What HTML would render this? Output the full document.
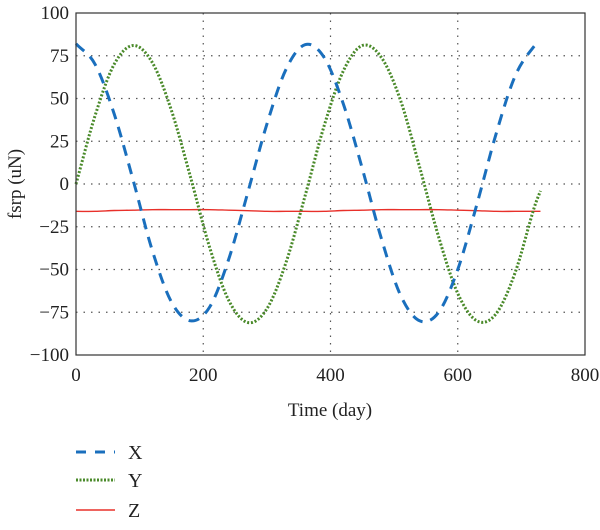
<!DOCTYPE html>
<html><head><meta charset="utf-8"><style>
body{margin:0;background:#fff}
svg text{font-family:"Liberation Serif",serif;fill:#222}
</style></head><body>
<svg id="chart" width="600" height="525" xmlns="http://www.w3.org/2000/svg">
<g id="grid"></g>
<g id="series"></g>
<rect x="76" y="13" width="509" height="342" fill="none" stroke="#333" stroke-width="1.2"/>
<g id="ticks"></g>
<text x="330" y="416" font-size="19" text-anchor="middle">Time (day)</text>
<text transform="translate(21,184) rotate(-90)" font-size="19" text-anchor="middle">fsrp (uN)</text>
<g>
<g><line x1="76" y1="452" x2="115" y2="452" stroke="#1a6fbd" stroke-width="3" stroke-dasharray="10,9"/><text x="128" y="459" font-size="20">X</text></g>
<g><line x1="76" y1="480" x2="115" y2="480" stroke="#4a8a2a" stroke-width="3" stroke-dasharray="2,1.5"/><text x="128" y="487" font-size="20">Y</text></g>
<g><line x1="76" y1="510" x2="115" y2="510" stroke="#e8302a" stroke-width="1.5"/><text x="128" y="517" font-size="20">Z</text></g>
</g>
</svg>
<script>
const days=[0,30,60,90,120,150,180,210,240,270,300,330,360,390,420,450,480,510,540,570,600,630,660,690,720,730];
const xVals=[82,70,41,2,-39,-69,-80,-72,-44,-5,35,67,81.5,74,47,9,-32,-65,-80,-75,-50,-12,29,63,80.5,82];
const yVals=[0,40,70,81,71,43,4,-37,-68,-81,-73,-46,-7,34,66,81,74,49,10,-31,-64,-80,-76,-52,-14,-4];
const zVals=[-16,-16,-15.5,-15.3,-15,-15,-15,-15,-15.3,-15.6,-16,-16,-16,-16,-15.5,-15.3,-15,-15,-15,-15,-15.3,-15.6,-16,-16,-16,-16];
const xTicks=[0,200,400,600,800];
const yTicks=[-100,-75,-50,-25,0,25,50,75,100];
const NS="http://www.w3.org/2000/svg";
const sx=v=>76+v/800*509;
const sy=v=>13+(100-v)/200*342;
function mk(tag,attrs,parent){const e=document.createElementNS(NS,tag);for(const k in attrs)e.setAttribute(k,attrs[k]);parent.appendChild(e);return e;}
const grid=document.getElementById('grid'),ticks=document.getElementById('ticks'),series=document.getElementById('series');
xTicks.forEach(t=>{
  if(t>0&&t<800){const l=mk('line',{x1:sx(t),x2:sx(t),y1:13,y2:355,stroke:'#555','stroke-width':1.2,'stroke-dasharray':'1.5,6'},grid);
  
  }
  const tx=mk('text',{x:sx(t),y:381,'font-size':19,'text-anchor':'middle'},ticks);tx.textContent=t;
  
  
});
yTicks.forEach(t=>{
  if(t>-100&&t<100){const l=mk('line',{x1:76,x2:585,y1:sy(t),y2:sy(t),stroke:'#555','stroke-width':1.2,'stroke-dasharray':'1.5,6'},grid);
  
  }
  const tx=mk('text',{x:69,y:sy(t)+6,'font-size':19,'text-anchor':'end'},ticks);tx.textContent=t<0?'\u2212'+(-t):t;
  
  
});
function pathFor(vals){
  const p=days.map((d,i)=>[sx(d),sy(vals[i])]);
  let s='M'+p[0][0]+','+p[0][1];
  for(let i=0;i<p.length-1;i++){
    const p0=p[i-1]||p[i],p1=p[i],p2=p[i+1],p3=p[i+2]||p2;
    const k1=(p2[0]-p1[0])/(p2[0]-p0[0]||1), k2=(p2[0]-p1[0])/(p3[0]-p1[0]||1);
    const c1=[p1[0]+(p2[0]-p0[0])*k1/3,p1[1]+(p2[1]-p0[1])*k1/3];
    const c2=[p2[0]-(p3[0]-p1[0])*k2/3,p2[1]-(p3[1]-p1[1])*k2/3];
    s+=' C'+c1+' '+c2+' '+p2;
  }
  return s;
}
const zl=mk('path',{d:pathFor(zVals),fill:'none',stroke:'#e8302a','stroke-width':1.4},series);


const yl=mk('path',{d:pathFor(yVals),fill:'none',stroke:'#4a8a2a','stroke-width':3,'stroke-dasharray':'2,1.8'},series);


const xl=mk('path',{d:pathFor(xVals),fill:'none',stroke:'#1a6fbd','stroke-width':3,'stroke-dasharray':'11,8'},series);


</script>
</body></html>
